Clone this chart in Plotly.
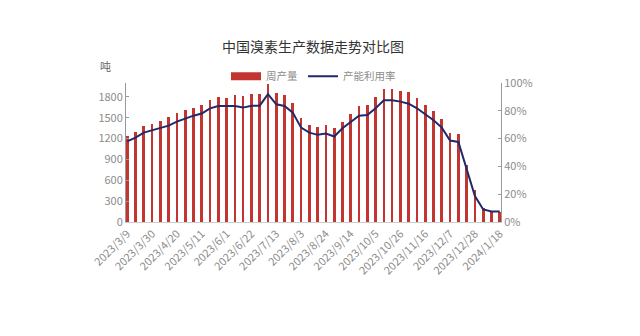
import plotly.graph_objects as go

dates = ["2023/3/9", "2023/3/16", "2023/3/23", "2023/3/30", "2023/4/6", "2023/4/13", "2023/4/20",
         "2023/4/27", "2023/5/4", "2023/5/11", "2023/5/18", "2023/5/25", "2023/6/1", "2023/6/8",
         "2023/6/15", "2023/6/22", "2023/6/29", "2023/7/6", "2023/7/13", "2023/7/20", "2023/7/27",
         "2023/8/3", "2023/8/10", "2023/8/17", "2023/8/24", "2023/8/31", "2023/9/7", "2023/9/14",
         "2023/9/21", "2023/9/28", "2023/10/5", "2023/10/12", "2023/10/19", "2023/10/26",
         "2023/11/2", "2023/11/9", "2023/11/16", "2023/11/23", "2023/11/30", "2023/12/7",
         "2023/12/14", "2023/12/21", "2023/12/28", "2024/1/4", "2024/1/11", "2024/1/18"]

weekly_output = [1240, 1300, 1380, 1410, 1460, 1510, 1565, 1605, 1645, 1680, 1760, 1800, 1790,
                 1830, 1815, 1835, 1835, 1990, 1858, 1824, 1713, 1500, 1394, 1365, 1394, 1350,
                 1446, 1558, 1674, 1689, 1800, 1911, 1915, 1892, 1877, 1786, 1689, 1597, 1475,
                 1287, 1263, 822, 465, 203, 154, 145]

utilization = [58, 60.7, 64.3, 65.8, 67.5, 69.3, 72.2, 74.6, 76.5, 78, 81.8, 83.5, 83.5, 83.5,
               82.3, 83.7, 83.7, 92, 84.7, 83.5, 78.7, 67.9, 64.3, 62.7, 63.6, 61.5, 67.5, 71.8,
               76.5, 77, 81.8, 87.6, 87.6, 86.6, 85.1, 81.8, 77.5, 73.2, 67.9, 58.6, 57.6, 37.8,
               18.7, 9, 7.6, 7.6]

left_ticks = [0, 300, 600, 900, 1200, 1500, 1800]
right_ticks = [0, 20, 40, 60, 80, 100]
right_tick_text = ["0%", "20%", "40%", "60%", "80%", "100%"]

x_idx = list(range(len(dates)))
label_idx = x_idx[::3]
label_text = [dates[i] for i in label_idx]

FONT = "Noto Sans CJK SC, Noto Sans, sans-serif"
GRAY = "#8c8c8c"
RED = "#c23531"
NAVY = "#1f2a6b"

fig = go.Figure()
fig.add_trace(go.Bar(
    x=x_idx, y=weekly_output, name="周产量",
    marker=dict(color=RED, line=dict(width=0)),
    width=0.32, yaxis="y", showlegend=False, legendgroup="a",
))
# legend entry drawn as a wide red block
fig.add_trace(go.Scatter(
    x=[None], y=[None], name="周产量", mode="lines",
    line=dict(color=RED, width=8), legendgroup="a", showlegend=True,
))
fig.add_trace(go.Scatter(
    x=x_idx, y=utilization, name="产能利用率", mode="lines",
    line=dict(color=NAVY, width=2), yaxis="y2",
))

fig.update_layout(
    width=640, height=336, autosize=False,
    margin=dict(l=126, r=139, t=83, b=114),
    paper_bgcolor="white", plot_bgcolor="white",
    font=dict(family=FONT, size=11, color=GRAY),
    title=dict(text="中国溴素生产数据走势对比图", x=313 / 640, xanchor="center",
               y=1 - 47 / 336, yanchor="middle",
               font=dict(family=FONT, size=14, color="#333333")),
    showlegend=True,
    legend=dict(orientation="h", x=0.5, xanchor="center", y=1.048, yanchor="middle",
                font=dict(family=FONT, size=10.5, color=GRAY), bgcolor="rgba(0,0,0,0)",
                itemwidth=30, tracegroupgap=0),
    bargap=0,
    xaxis=dict(
        range=[-0.15, len(dates) - 1 + 0.15],
        tickmode="array", tickvals=label_idx, ticktext=label_text,
        tickangle=-45, showgrid=False, zeroline=False,
        showline=True, linecolor="#cccccc", linewidth=1,
        ticks="", tickfont=dict(size=11, color=GRAY),
    ),
    yaxis=dict(
        range=[0, 2000], tickmode="array", tickvals=left_ticks,
        showgrid=False, zeroline=False,
        showline=True, linecolor="#999999", linewidth=1,
        ticks="inside", ticklen=3, tickcolor="#999999",
        tickfont=dict(size=11, color=GRAY),
    ),
    yaxis2=dict(
        range=[0, 100], tickmode="array", tickvals=right_ticks, ticktext=right_tick_text,
        overlaying="y", side="right", showgrid=False, zeroline=False,
        showline=True, linecolor="#999999", linewidth=1,
        ticks="inside", ticklen=3, tickcolor="#999999",
        tickfont=dict(size=11, color=GRAY),
    ),
    annotations=[dict(text="吨", xref="paper", yref="paper", x=-0.056, y=1.122,
                      xanchor="center", yanchor="middle", showarrow=False,
                      font=dict(family=FONT, size=11, color="#666666"))],
)

fig.write_html("out.html")
